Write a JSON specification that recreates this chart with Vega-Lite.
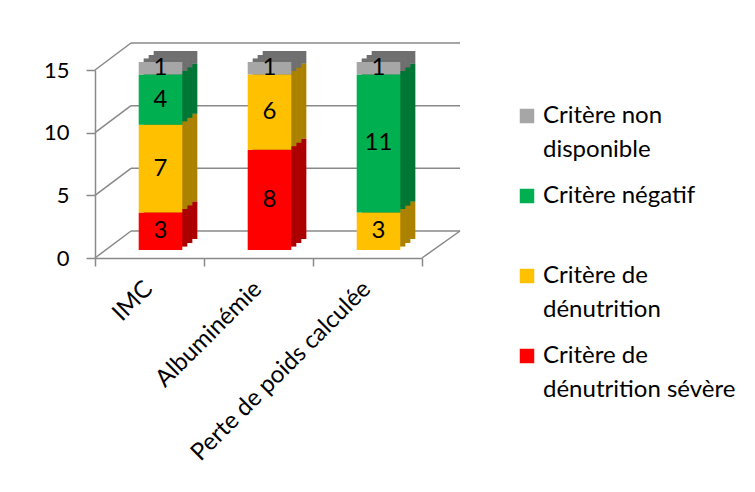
{
  "$schema": "https://vega.github.io/schema/vega-lite/v6.json",
  "width": 327,
  "height": 188,
  "autosize": {"type": "none"},
  "padding": {"left": 95, "top": 70, "right": 333, "bottom": 234},
  "background": "white",
  "config": {
    "font": "Lato",
    "view": {"stroke": null},
    "style": {"guide-label": {"lineHeight": 34}}
  },
  "datasets": {
    "bars": [
      {"critere": "IMC", "categorie": "Critère de dénutrition sévère", "ordre": 1, "n": 3},
      {"critere": "IMC", "categorie": "Critère de dénutrition", "ordre": 2, "n": 7},
      {"critere": "IMC", "categorie": "Critère négatif", "ordre": 3, "n": 4},
      {"critere": "IMC", "categorie": "Critère non disponible", "ordre": 4, "n": 1},
      {"critere": "Albuminémie", "categorie": "Critère de dénutrition sévère", "ordre": 1, "n": 8},
      {"critere": "Albuminémie", "categorie": "Critère de dénutrition", "ordre": 2, "n": 6},
      {"critere": "Albuminémie", "categorie": "Critère non disponible", "ordre": 4, "n": 1},
      {"critere": "Perte de poids calculée", "categorie": "Critère de dénutrition", "ordre": 2, "n": 3},
      {"critere": "Perte de poids calculée", "categorie": "Critère négatif", "ordre": 3, "n": 11},
      {"critere": "Perte de poids calculée", "categorie": "Critère non disponible", "ordre": 4, "n": 1}
    ],
    "grid": [{"v": 0}, {"v": 5}, {"v": 10}, {"v": 15}]
  },
  "resolve": {"scale": {"x": "independent"}},
  "layer": [
    {
      "data": {"name": "grid"},
      "mark": {"type": "rule", "color": "#898989", "strokeWidth": 1.5, "xOffset": 36, "x2Offset": 38, "yOffset": -27, "y2Offset": -27},
      "encoding": {
        "x": {"datum": 0, "type": "quantitative", "scale": {"domain": [0, 1]}, "axis": null},
        "x2": {"datum": 1},
        "y": {"field": "v", "type": "quantitative", "scale": {"domain": [0, 15], "nice": false}, "title": null},
        "y2": {"field": "v"}
      }
    },
    {
      "data": {"name": "grid"},
      "mark": {"type": "rule", "color": "#898989", "strokeWidth": 1.5, "x2Offset": 36, "y2Offset": -27},
      "encoding": {
        "x": {"datum": 0, "type": "quantitative", "scale": {"domain": [0, 1]}, "axis": null},
        "x2": {"datum": 0},
        "y": {"field": "v", "type": "quantitative", "title": null},
        "y2": {"field": "v"}
      }
    },
    {
      "data": {"values": [{"v": 0}]},
      "mark": {"type": "rule", "color": "#898989", "strokeWidth": 1.5, "x2Offset": 38, "y2Offset": -27},
      "encoding": {
        "x": {"datum": 1, "type": "quantitative", "scale": {"domain": [0, 1]}, "axis": null},
        "x2": {"datum": 1},
        "y": {"field": "v", "type": "quantitative", "title": null},
        "y2": {"field": "v"}
      }
    },
    {
      "data": {"name": "bars"},
      "transform": [{"stack": "n", "groupby": ["critere"], "sort": [{"field": "ordre"}], "as": ["y0", "y1"]}],
      "encoding": {
        "x": {"field": "critere", "type": "nominal", "sort": ["IMC", "Albuminémie", "Perte de poids calculée"],
          "scale": {"paddingInner": 0, "paddingOuter": 0},
          "axis": {"title": null, "labelAngle": -45, "labelAlign": "right", "labelBaseline": "middle", "labelOffset": -1, "labelPadding": 19,
            "labelFontSize": 24, "labelFont": "Lato", "labelColor": "#000000", "tickBand": "extent", "tickSize": 8,
            "domainColor": "#898989", "tickColor": "#898989", "domainWidth": 1.5, "tickWidth": 1.5, "labelLimit": 400}}
      },
      "layer": [
        {
          "layer": [
            {
              "mark": {"type": "bar", "width": {"band": 0.4}, "xOffset": 26, "yOffset": -19, "y2Offset": -19},
              "encoding": {"color": {"field": "categorie", "type": "nominal"}}
            },
            {
              "mark": {"type": "bar", "width": {"band": 0.4}, "xOffset": 26, "yOffset": -19, "y2Offset": -19, "color": "#000000", "opacity": 0.33}
            },
            {
              "mark": {"type": "bar", "width": {"band": 0.4}, "xOffset": 21, "yOffset": -15, "y2Offset": -15},
              "encoding": {"color": {"field": "categorie", "type": "nominal"}}
            },
            {
              "mark": {"type": "bar", "width": {"band": 0.4}, "xOffset": 21, "yOffset": -15, "y2Offset": -15, "color": "#000000", "opacity": 0.33}
            },
            {
              "mark": {"type": "bar", "width": {"band": 0.4}, "xOffset": 16, "yOffset": -11.5, "y2Offset": -11.5},
              "encoding": {"color": {"field": "categorie", "type": "nominal"}}
            },
            {
              "mark": {"type": "bar", "width": {"band": 0.4}, "xOffset": 16, "yOffset": -11.5, "y2Offset": -11.5, "color": "#000000", "opacity": 0.33}
            },
            {
              "mark": {"type": "bar", "width": {"band": 0.4}, "xOffset": 11, "yOffset": -8, "y2Offset": -8},
              "encoding": {
                "color": {"field": "categorie", "type": "nominal",
                  "scale": {"domain": ["Critère non disponible", "Critère négatif", "Critère de dénutrition", "Critère de dénutrition sévère"],
                            "range": ["#a6a6a6", "#00b050", "#ffc000", "#ff0000"]},
                  "legend": {
                    "orient": "none", "legendX": 420, "legendY": 34,
                    "title": null, "symbolType": "square", "symbolSize": 210, "symbolStrokeWidth": 0,
                    "labelFont": "Lato", "labelFontSize": 24, "labelColor": "#000000", "labelOffset": 4,
                    "labelLimit": 400, "rowPadding": 22,
                    "labelExpr": "datum.label == 'Critère non disponible' ? ['Critère non', 'disponible'] : datum.label == 'Critère négatif' ? ['Critère négatif', ''] : datum.label == 'Critère de dénutrition' ? ['Critère de', 'dénutrition'] : ['Critère de', 'dénutrition sévère']"
                  }
                }
              }
            }
          ],
          "encoding": {
            "y": {"field": "y0", "type": "quantitative", "stack": null, "scale": {"domain": [0, 15], "nice": false},
              "axis": {"title": null, "values": [0, 5, 10, 15], "grid": false, "tickSize": 9, "labelPadding": 17,
                "labelFontSize": 22, "labelFont": "Lato", "labelColor": "#000000",
                "domainColor": "#898989", "tickColor": "#898989", "domainWidth": 1.5, "tickWidth": 1.5}},
            "y2": {"field": "y1"}
          }
        },
        {
          "transform": [
            {"fold": ["y0", "y1"], "as": ["bord", "valeur"]},
            {"aggregate": [{"op": "mean", "field": "valeur", "as": "milieu"}], "groupby": ["critere", "categorie", "n"]}
          ],
          "mark": {"type": "text", "xOffset": 11, "yOffset": -8, "fontSize": 24, "font": "Lato", "color": "#000000"},
          "encoding": {
            "y": {"field": "milieu", "type": "quantitative", "stack": null, "title": null},
            "text": {"field": "n", "type": "quantitative"}
          }
        }
      ]
    }
  ]
}
